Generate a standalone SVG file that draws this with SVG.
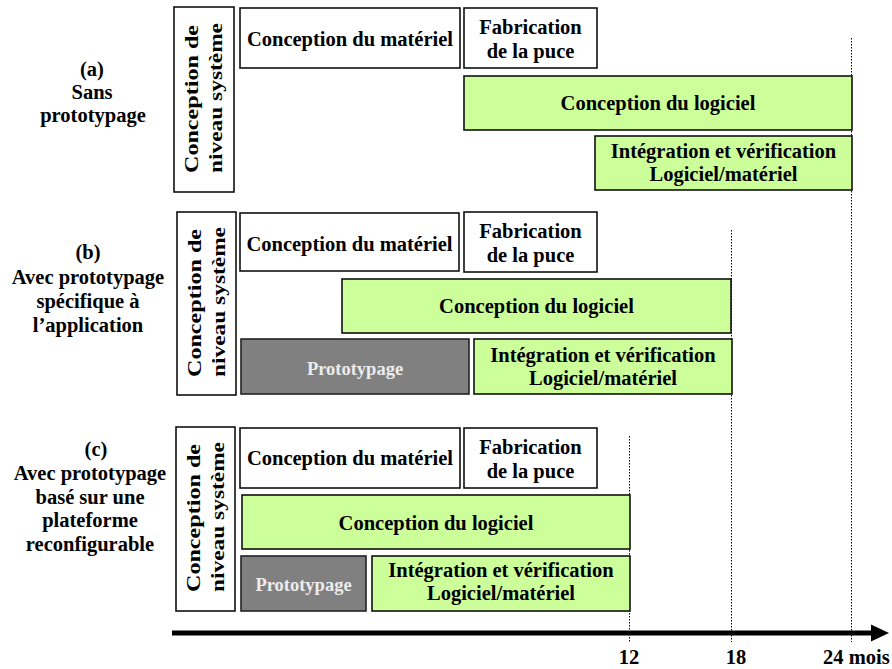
<svg xmlns="http://www.w3.org/2000/svg" width="892" height="669" viewBox="0 0 892 669">
<style>
text{font-family:"Liberation Serif","Times New Roman",serif;font-weight:bold;fill:#000}
.t{font-size:20.5px;text-anchor:middle}
.v{font-size:19.5px;text-anchor:middle}
.p{font-size:18.5px;text-anchor:middle;fill:#ececec}
.w{fill:#fff;stroke:#111;stroke-width:1.6}
.g{fill:#ccff99;stroke:#111;stroke-width:1.6}
.d{fill:#808080;stroke:#222;stroke-width:1.6}
.dot{stroke:#000;stroke-width:1;stroke-dasharray:1.5,1.5;fill:none}
</style>
<rect width="892" height="669" fill="#fff"/>

<g id="axis">
<line class="dot" x1="851.5" y1="38" x2="851.5" y2="642"/>
<line class="dot" x1="731.5" y1="230" x2="731.5" y2="642"/>
<line class="dot" x1="629.5" y1="436" x2="629.5" y2="642"/>
<line x1="172" y1="633" x2="874" y2="633" stroke="#000" stroke-width="5"/>
<polygon points="871,624.5 889,633 871,641.5" fill="#000"/>
<text class="t" x="629" y="664">12</text>
<text class="t" x="736" y="664">18</text>
<text x="823" y="664" style="font-size:20.5px">24 mois</text>
</g>

<g id="label-a">
<text class="t" x="92" y="76">(a)</text>
<text class="t" x="92" y="99">Sans</text>
<text class="t" x="93" y="122">prototypage</text>
</g>
<g id="label-b">
<text class="t" x="88" y="259">(b)</text>
<text class="t" x="88" y="284">Avec prototypage</text>
<text class="t" x="88" y="308">spécifique à</text>
<text class="t" x="88" y="332">l’application</text>
</g>
<g id="label-c">
<text class="t" x="96" y="456">(c)</text>
<text class="t" x="90" y="480">Avec prototypage</text>
<text class="t" x="90" y="504">basé sur une</text>
<text class="t" x="90" y="527">plateforme</text>
<text class="t" x="90" y="551">reconfigurable</text>
</g>

<!-- (a) -->
<g id="a-systeme">
<rect class="w" x="174" y="7" width="60" height="185"/>
<text class="v" transform="translate(198,99) rotate(-90)" textLength="148" lengthAdjust="spacingAndGlyphs">Conception de</text>
<text class="v" transform="translate(222,98) rotate(-90)" textLength="150" lengthAdjust="spacingAndGlyphs">niveau système</text>
</g>
<g id="a-materiel">
<rect class="w" x="240" y="8" width="220" height="60"/>
<text class="t" x="350" y="46">Conception du matériel</text>
</g>
<g id="a-fabrication">
<rect class="w" x="464" y="8" width="133" height="60"/>
<text class="t" x="530.5" y="34">Fabrication</text>
<text class="t" x="530.5" y="58">de la puce</text>
</g>
<g id="a-logiciel">
<rect class="g" x="464" y="76" width="388" height="54"/>
<text class="t" x="658" y="110">Conception du logiciel</text>
</g>
<g id="a-integration">
<rect class="g" x="595" y="136" width="257" height="54"/>
<text class="t" x="723.5" y="158">Intégration et vérification</text>
<text class="t" x="723.5" y="181">Logiciel/matériel</text>
</g>

<!-- (b) -->
<g id="b-systeme">
<rect class="w" x="177" y="212" width="59" height="183"/>
<text class="v" transform="translate(201,303) rotate(-90)" textLength="148" lengthAdjust="spacingAndGlyphs">Conception de</text>
<text class="v" transform="translate(225,302) rotate(-90)" textLength="150" lengthAdjust="spacingAndGlyphs">niveau système</text>
</g>
<g id="b-materiel">
<rect class="w" x="240" y="213" width="219" height="58"/>
<text class="t" x="349.5" y="250.5">Conception du matériel</text>
</g>
<g id="b-fabrication">
<rect class="w" x="464" y="212" width="133" height="60"/>
<text class="t" x="530.5" y="238">Fabrication</text>
<text class="t" x="530.5" y="262">de la puce</text>
</g>
<g id="b-logiciel">
<rect class="g" x="342" y="279" width="389" height="54"/>
<text class="t" x="536.5" y="313">Conception du logiciel</text>
</g>
<g id="b-prototypage">
<rect class="d" x="241" y="339" width="228" height="55"/>
<text class="p" x="355" y="375">Prototypage</text>
</g>
<g id="b-integration">
<rect class="g" x="474" y="339" width="258" height="55"/>
<text class="t" x="603" y="362">Intégration et vérification</text>
<text class="t" x="603" y="385">Logiciel/matériel</text>
</g>

<!-- (c) -->
<g id="c-systeme">
<rect class="w" x="176" y="427" width="59" height="184"/>
<text class="v" transform="translate(200,518) rotate(-90)" textLength="148" lengthAdjust="spacingAndGlyphs">Conception de</text>
<text class="v" transform="translate(224,517) rotate(-90)" textLength="150" lengthAdjust="spacingAndGlyphs">niveau système</text>
</g>
<g id="c-materiel">
<rect class="w" x="240" y="428" width="220" height="60"/>
<text class="t" x="350" y="465">Conception du matériel</text>
</g>
<g id="c-fabrication">
<rect class="w" x="464" y="428" width="133" height="60"/>
<text class="t" x="530.5" y="454">Fabrication</text>
<text class="t" x="530.5" y="478">de la puce</text>
</g>
<g id="c-logiciel">
<rect class="g" x="242" y="495" width="388" height="54"/>
<text class="t" x="436" y="530">Conception du logiciel</text>
</g>
<g id="c-prototypage">
<rect class="d" x="241" y="556" width="125" height="55"/>
<text class="p" x="303.5" y="591">Prototypage</text>
</g>
<g id="c-integration">
<rect class="g" x="372" y="556" width="258" height="55"/>
<text class="t" x="501" y="577">Intégration et vérification</text>
<text class="t" x="501" y="600">Logiciel/matériel</text>
</g>
</svg>
